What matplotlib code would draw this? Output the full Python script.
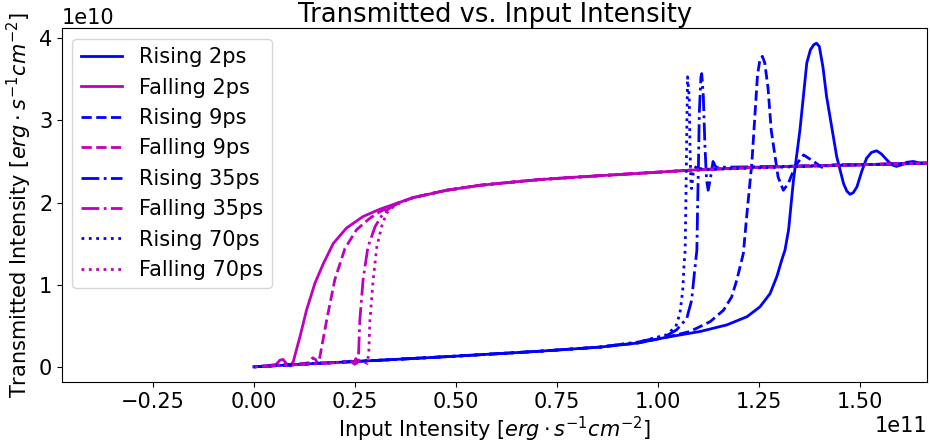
import matplotlib
matplotlib.use("Agg")
import matplotlib.pyplot as plt

# x in units of 1e11, y in units of 1e10
x_rise_2 = [0, 0.15, 0.312, 0.5, 0.708, 0.856, 0.95, 1.021, 1.104, 1.17, 1.22, 1.252, 1.277,
            1.294, 1.306, 1.314, 1.323, 1.335, 1.351, 1.368, 1.377, 1.385, 1.392, 1.399,
            1.408, 1.417, 1.442, 1.459, 1.467, 1.475, 1.483, 1.492, 1.504, 1.516, 1.528,
            1.541, 1.553, 1.566, 1.578, 1.59, 1.603, 1.615, 1.632, 1.648, 1.666]
y_rise_2 = [0, 0.04, 0.08, 0.13, 0.19, 0.24, 0.29, 0.36, 0.43, 0.51, 0.61, 0.73, 0.89,
            1.10, 1.30, 1.42, 1.67, 2.27, 2.88, 3.70, 3.86, 3.92, 3.94, 3.90,
            3.65, 3.29, 2.56, 2.23, 2.14, 2.10, 2.12, 2.19, 2.38, 2.54, 2.61,
            2.63, 2.59, 2.52, 2.46, 2.44, 2.46, 2.49, 2.50, 2.48, 2.48]

x_fall_2 = [1.666, 1.5, 1.25, 1.1, 1.0, 0.9, 0.8, 0.708, 0.642, 0.559, 0.477, 0.394, 0.353,
            0.312, 0.27, 0.229, 0.196, 0.172, 0.151, 0.13, 0.114, 0.097, 0.09, 0.08, 0.072,
            0.064, 0.055, 0.03, 0.0]
y_fall_2 = [2.48, 2.46, 2.43, 2.40, 2.37, 2.34, 2.31, 2.28, 2.25, 2.21, 2.15, 2.06, 1.99,
            1.92, 1.83, 1.69, 1.50, 1.26, 1.02, 0.69, 0.37, 0.06, 0.01, 0.04, 0.09,
            0.08, 0.03, 0.01, 0.0]

x_rise_9 = [0, 0.15, 0.312, 0.5, 0.708, 0.856, 0.95, 1.021, 1.079, 1.129, 1.162, 1.182,
            1.195, 1.203, 1.211, 1.22, 1.232, 1.24, 1.246, 1.252, 1.258, 1.264, 1.272,
            1.28, 1.297, 1.31, 1.322, 1.34, 1.36, 1.385, 1.405, 1.435, 1.5, 1.6, 1.666]
y_rise_9 = [0, 0.04, 0.08, 0.13, 0.19, 0.24, 0.29, 0.36, 0.43, 0.55, 0.69, 0.85,
            1.06, 1.22, 1.38, 1.87, 2.48, 3.09, 3.55, 3.74, 3.78, 3.70, 3.40,
            2.88, 2.31, 2.15, 2.23, 2.45, 2.58, 2.50, 2.43, 2.46, 2.46, 2.47, 2.48]

x_fall_9 = [1.666, 1.5, 1.25, 1.1, 1.0, 0.9, 0.8, 0.708, 0.642, 0.559, 0.477, 0.394, 0.353,
            0.33, 0.312, 0.287, 0.254, 0.225, 0.2, 0.18, 0.163, 0.158, 0.152, 0.145,
            0.138, 0.12, 0.0]
y_fall_9 = [2.48, 2.46, 2.43, 2.40, 2.37, 2.34, 2.31, 2.28, 2.25, 2.21, 2.15, 2.06, 1.99,
            1.93, 1.89, 1.81, 1.67, 1.44, 1.06, 0.57, 0.12, 0.04, 0.09, 0.11,
            0.05, 0.04, 0.0]

x_rise_35 = [0, 0.15, 0.312, 0.5, 0.708, 0.856, 0.95, 1.021, 1.046, 1.071, 1.083, 1.089,
             1.096, 1.098, 1.1, 1.102, 1.106, 1.108, 1.112, 1.116, 1.12, 1.124, 1.13,
             1.136, 1.142, 1.15, 1.16, 1.3, 1.5, 1.666]
y_rise_35 = [0, 0.04, 0.08, 0.13, 0.19, 0.24, 0.30, 0.38, 0.45, 0.59, 0.81, 1.10,
             1.42, 2.00, 2.48, 3.09, 3.53, 3.57, 3.29, 2.68, 2.27, 2.15, 2.31,
             2.50, 2.44, 2.42, 2.43, 2.44, 2.46, 2.48]

x_fall_35 = [1.666, 1.5, 1.25, 1.1, 1.0, 0.9, 0.8, 0.708, 0.642, 0.559, 0.477, 0.394,
             0.353, 0.335, 0.32, 0.3, 0.282, 0.27, 0.262, 0.258, 0.255, 0.252, 0.249,
             0.24, 0.2, 0.0]
y_fall_35 = [2.48, 2.46, 2.43, 2.40, 2.37, 2.34, 2.31, 2.28, 2.25, 2.21, 2.15, 2.06,
             1.98, 1.93, 1.87, 1.71, 1.46, 1.06, 0.57, 0.06, 0.02, 0.10, 0.03,
             0.07, 0.05, 0.0]

x_rise_70 = [0, 0.15, 0.312, 0.5, 0.708, 0.856, 0.95, 1.021, 1.044, 1.054, 1.061, 1.064,
             1.067, 1.069, 1.071, 1.073, 1.077, 1.079, 1.081, 1.083, 1.087, 1.095, 1.11,
             1.3, 1.5, 1.666]
y_rise_70 = [0, 0.04, 0.08, 0.13, 0.19, 0.24, 0.30, 0.39, 0.49, 0.65, 0.93, 1.22,
             1.42, 2.07, 2.88, 3.53, 3.29, 2.68, 2.27, 2.17, 2.36, 2.45, 2.40,
             2.43, 2.46, 2.48]

x_fall_70 = [1.666, 1.5, 1.25, 1.1, 1.0, 0.9, 0.8, 0.708, 0.642, 0.559, 0.477, 0.394,
             0.353, 0.34, 0.328, 0.316, 0.304, 0.295, 0.287, 0.284, 0.28, 0.27, 0.2, 0.0]
y_fall_70 = [2.48, 2.46, 2.43, 2.40, 2.37, 2.34, 2.31, 2.28, 2.25, 2.21, 2.15, 2.06,
             1.98, 1.93, 1.87, 1.71, 1.46, 1.06, 0.57, 0.16, 0.04, 0.07, 0.05, 0.0]

series = [
    ("Rising 2ps", x_rise_2, y_rise_2, "b", "-"),
    ("Falling 2ps", x_fall_2, y_fall_2, "m", "-"),
    ("Rising 9ps", x_rise_9, y_rise_9, "b", "--"),
    ("Falling 9ps", x_fall_9, y_fall_9, "m", "--"),
    ("Rising 35ps", x_rise_35, y_rise_35, "b", "-."),
    ("Falling 35ps", x_fall_35, y_fall_35, "m", "-."),
    ("Rising 70ps", x_rise_70, y_rise_70, "b", ":"),
    ("Falling 70ps", x_fall_70, y_fall_70, "m", ":"),
]

plt.rcParams["font.size"] = 15

fig, ax = plt.subplots(figsize=(9.3, 4.44), dpi=100)
fig.subplots_adjust(left=0.0667, right=0.997, top=0.936, bottom=0.140)

for label, xs, ys, c, ls in series:
    ax.plot([v * 1e11 for v in xs], [v * 1e10 for v in ys], color=c, linestyle=ls,
            linewidth=2, label=label)

ax.set_xlim(-0.475e11, 1.666e11)
ax.set_ylim(-0.183e10, 4.12e10)
ax.set_xlabel(r"Input Intensity [$erg \cdot s^{-1} cm^{-2}$]", labelpad=2)
ax.set_ylabel(r"Transmitted Intensity [$erg \cdot s^{-1} cm^{-2}$]")
ax.set_title("Transmitted vs. Input Intensity", fontsize=18.5, pad=4)
ax.legend(loc="upper left")

fig.savefig("out.png", dpi=100)
